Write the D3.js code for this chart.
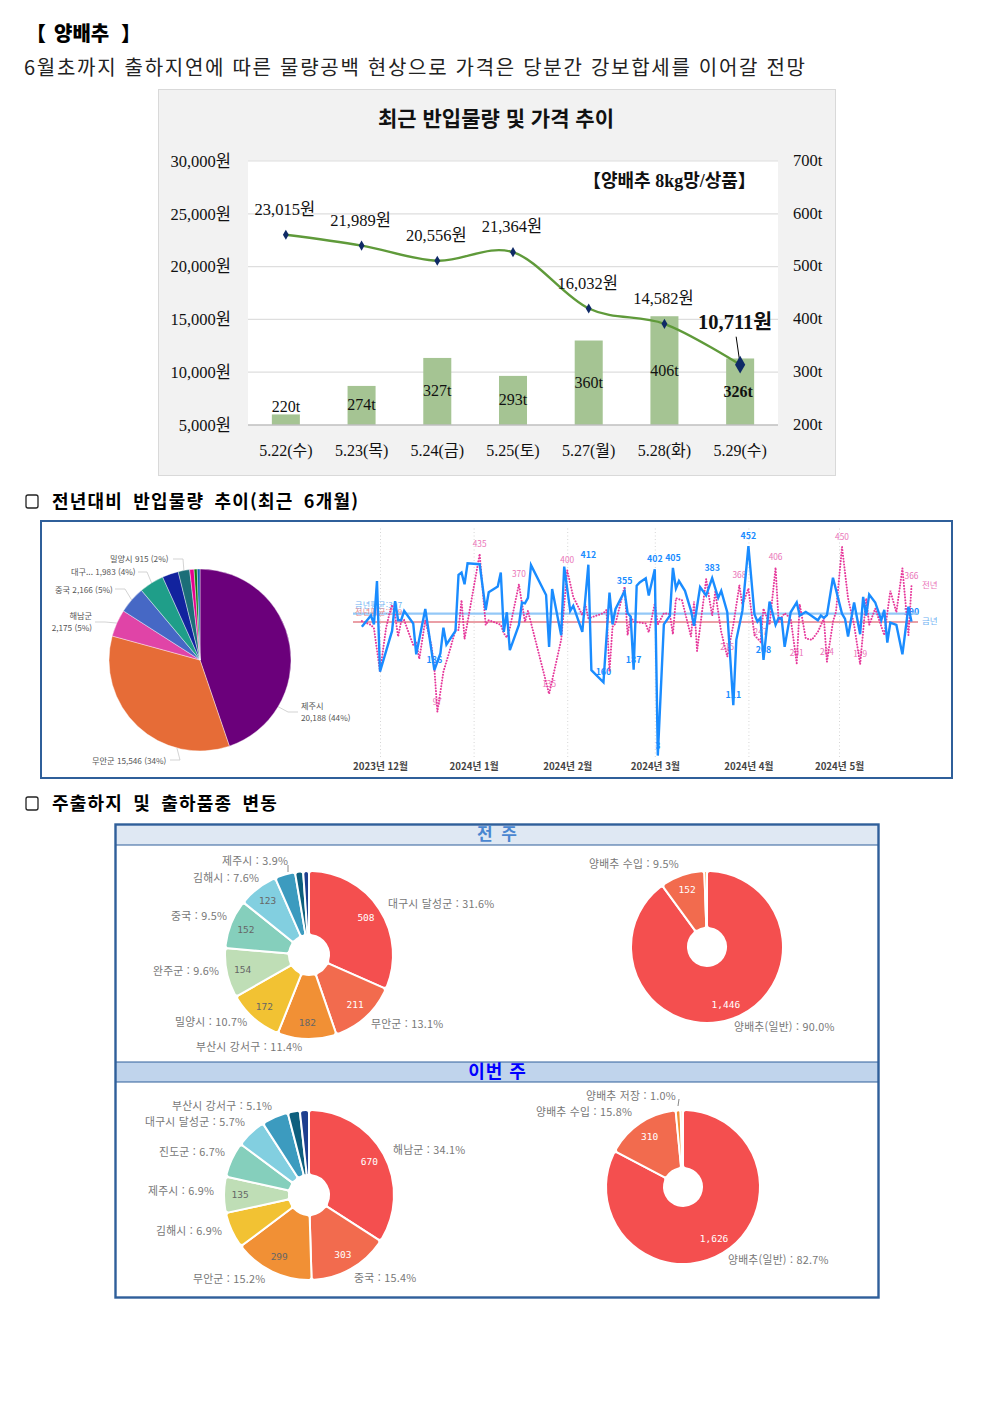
<!DOCTYPE html>
<html lang="ko">
<head>
<meta charset="utf-8">
<title>양배추</title>
<script src="https://cdn.jsdelivr.net/npm/d3@7"></script>
<style>
    body { margin: 0; background: #fff; }
    text { font-family: "Noto Sans CJK KR", sans-serif; }
    .serif text, text.serif { font-family: "Liberation Serif", "Noto Sans CJK KR", serif; }
    .mono { font-family: "DejaVu Sans Mono", monospace; }
</style>
</head>
<body>
<svg id="page" width="992" height="1403"></svg>
<script>
// price and volume chart
const priceDates = ['5.22(수)', '5.23(목)', '5.24(금)', '5.25(토)', '5.27(월)', '5.28(화)', '5.29(수)'];
const prices = [23015, 21989, 20556, 21364, 16032, 14582, 10711];
const tons = [220, 274, 327, 293, 360, 406, 326];
const priceTicks = [5000, 10000, 15000, 20000, 25000, 30000];
const tonTicks = [200, 300, 400, 500, 600, 700];

// origin pie of the last six months
const originNames = ['제주시', '무안군', '해남군', '중국', '대구...', '기타1', '밀양시', '기타2', '기타3', '기타4'];
const originValues = [20188, 15546, 2175, 2166, 1983, 1300, 915, 350, 250, 220];
const originShares = [44, 34, 5, 5, 4, 3, 2, 1, 1, 1];

// daily volume, day offsets count from 2023-12-01
const curDays = [-6, -3, -2, -1, 0, 4, 5, 6, 7, 8, 11, 12, 15, 18, 20, 21, 22, 25, 26, 27, 28, 29, 33, 35, 36, 39, 40, 41, 42, 43, 46, 47, 48, 49, 50, 55, 56, 57, 60, 61, 63, 64, 67, 69, 70, 74, 76, 77, 78, 81, 82, 83, 84, 85, 86, 88, 89, 91, 92, 94, 96, 97, 98, 99, 101, 103, 104, 106, 108, 110, 112, 113, 115, 117, 118, 120, 122, 124, 125, 126, 127, 129, 131, 132, 133, 134, 136, 138, 139, 141, 145, 146, 147, 148, 150, 153, 154, 155, 157, 159, 160, 161, 162, 164, 166, 167, 168, 169, 171, 173, 175, 176];
const curTons = [279, 303, 284, 377, 183, 270, 334, 293, 293, 313, 286, 220, 317, 186, 222, 277, 241, 270, 390, 395, 370, 415, 413, 315, 353, 365, 395, 268, 310, 229, 283, 331, 329, 341, 411, 347, 236, 360, 261, 408, 313, 324, 268, 412, 186, 160, 352, 284, 317, 355, 308, 301, 187, 367, 374, 383, 346, 402, 3, 284, 303, 405, 361, 377, 356, 313, 281, 364, 346, 383, 341, 356, 310, 111, 251, 313, 452, 306, 290, 298, 208, 333, 283, 298, 297, 236, 310, 331, 303, 311, 293, 303, 298, 304, 384, 307, 296, 258, 331, 263, 343, 303, 348, 331, 293, 315, 245, 288, 283, 220, 322, 290];
const curLabelDays = [18, 69, 74, 81, 84, 91, 92, 97, 110, 117, 122, 127, 176];

const prevDays = [-6, -3, -2, 0, 2, 3, 4, 5, 6, 7, 8, 11, 12, 13, 15, 17, 18, 19, 21, 23, 25, 26, 27, 28, 33, 35, 36, 39, 40, 41, 42, 43, 46, 48, 49, 56, 60, 62, 64, 67, 68, 69, 74, 75, 76, 77, 78, 81, 82, 83, 84, 88, 89, 91, 92, 94, 96, 97, 98, 100, 103, 104, 105, 108, 110, 111, 113, 115, 117, 119, 120, 122, 124, 126, 127, 129, 131, 132, 134, 136, 138, 139, 141, 143, 145, 147, 148, 150, 151, 153, 155, 157, 159, 161, 162, 164, 167, 169, 171, 173, 175, 176];
const prevTons = [291, 283, 276, 183, 276, 304, 326, 304, 258, 290, 293, 240, 247, 210, 293, 240, 190, 97, 183, 226, 272, 272, 336, 253, 435, 283, 293, 286, 283, 265, 256, 276, 370, 290, 313, 135, 251, 400, 343, 304, 327, 297, 308, 315, 183, 279, 286, 365, 261, 301, 290, 286, 267, 329, 284, 308, 306, 263, 340, 336, 258, 333, 227, 381, 303, 354, 268, 215, 283, 368, 326, 361, 261, 247, 318, 283, 406, 290, 308, 297, 201, 327, 254, 251, 268, 297, 204, 290, 311, 450, 340, 283, 199, 340, 283, 318, 261, 356, 310, 404, 261, 366];
const prevLabelDays = [19, 33, 46, 56, 62, 115, 119, 126, 131, 138, 148, 153, 159, 176];
const curAverage = 307;
const prevAverage = 289;
const monthTicks = ['2023-12-01', '2024-01-01', '2024-02-01', '2024-03-01', '2024-04-01', '2024-05-01'];

// last week's origins and varieties
const lastOriginNames = ['대구시 달성군', '무안군', '부산시 강서구', '밀양시', '완주군', '중국', '김해시', '제주시', '기타1', '기타2'];
const lastOriginValues = [508, 211, 182, 172, 154, 152, 123, 63, 25, 18];
const lastOriginShares = [31.6, 13.1, 11.4, 10.7, 9.6, 9.5, 7.6, 3.9];
const lastKindNames = ['양배추(일반)', '양배추 수입', '기타'];
const lastKindValues = [1446, 152, 9];
const lastKindShares = [90.0, 9.5];

// this week's origins and varieties
const thisOriginNames = ['해남군', '중국', '무안군', '김해시', '제주시', '진도군', '대구시 달성군', '부산시 강서구', '기타1', '기타2'];
const thisOriginValues = [670, 303, 299, 135, 135, 132, 112, 100, 45, 34];
const thisOriginShares = [34.1, 15.4, 15.2, 6.9, 6.9, 6.7, 5.7, 5.1];
const thisKindNames = ['양배추(일반)', '양배추 수입', '양배추 저장', '기타'];
const thisKindValues = [1626, 310, 20, 10];
const thisKindShares = [82.7, 15.8, 1.0];

const donutColors = ['#f44f4f', '#f26b4e', '#f19035', '#f2c233', '#bfdeb6', '#85cfbc', '#82cfe0', '#3c9bbf', '#0e5f7e', '#1e3f8f'];
const kindColors = ['#f44f4f', '#f26b4e', '#f19035', '#f8d9a8'];
const originColors = ['#6b007b', '#e66c37', '#e044a7', '#4668c5', '#1f9e89', '#12239e', '#1c6e78', '#e6008c', '#107c10', '#1260b0'];

const svg = d3.select('#page');

/* ---------- page text ---------- */

svg.append('text').attr('x', 26).attr('y', 41)
    .attr('font-size', 20).attr('font-weight', 900).text('【');
svg.append('text').attr('x', 54).attr('y', 41)
    .attr('font-size', 20).attr('font-weight', 900).text('양배추');
svg.append('text').attr('x', 121).attr('y', 41)
    .attr('font-size', 20).attr('font-weight', 900).text('】');
svg.append('text').attr('x', 24).attr('y', 74.5)
    .attr('font-size', 20).attr('fill', '#222')
    .attr('textLength', 781).attr('lengthAdjust', 'spacing')
    .text('6월초까지 출하지연에 따른 물량공백 현상으로 가격은 당분간 강보합세를 이어갈 전망');

function heading(y, label) {
    svg.append('rect').attr('x', 26).attr('y', y - 7).attr('width', 12).attr('height', 13)
        .attr('rx', 2).attr('fill', 'none').attr('stroke', '#222').attr('stroke-width', 1.3);
    svg.append('text').attr('x', 52).attr('y', y + 5.5)
        .attr('font-size', 18).attr('font-weight', 700)
        .attr('letter-spacing', 1.2).attr('word-spacing', 4).text(label);
}
heading(502, '전년대비 반입물량 추이(최근 6개월)');
heading(804, '주출하지 및 출하품종 변동');

/* ---------- price and volume ---------- */

function drawPriceChart() {
    const left = 248, right = 778, top = 161, bottom = 425;

    svg.append('rect').attr('x', 158.5).attr('y', 89.5).attr('width', 677).attr('height', 386)
        .attr('fill', '#f2f2f2').attr('stroke', '#d9d9d9');
    svg.append('rect').attr('x', left).attr('y', top).attr('width', right - left).attr('height', bottom - top)
        .attr('fill', '#fff');
    svg.append('text').attr('x', 496).attr('y', 126).attr('text-anchor', 'middle')
        .attr('font-size', 21).attr('font-weight', 700).attr('fill', '#111').text('최근 반입물량 및 가격 추이');

    const x = d3.scaleBand().domain(priceDates).range([left, right]).paddingInner(0.63).paddingOuter(0.315);
    const yPrice = d3.scaleLinear().domain([5000, 30000]).range([bottom, top]);
    const yTon = d3.scaleLinear().domain([200, 700]).range([bottom, top]);
    const cx = d => x(d) + x.bandwidth() / 2;

    svg.append('g').selectAll('line').data(priceTicks.slice(1)).join('line')
        .attr('x1', left).attr('x2', right)
        .attr('y1', d => yPrice(d)).attr('y2', d => yPrice(d))
        .attr('stroke', '#dedede').attr('stroke-width', 1.2);

    svg.append('g').selectAll('rect').data(priceDates).join('rect')
        .attr('x', d => x(d)).attr('width', x.bandwidth())
        .attr('y', (d, i) => yTon(tons[i])).attr('height', (d, i) => bottom - yTon(tons[i]))
        .attr('fill', '#a5c493');

    svg.append('line').attr('x1', left).attr('x2', right).attr('y1', bottom).attr('y2', bottom)
        .attr('stroke', '#bfbfbf').attr('stroke-width', 1.5);

    const axisLeft = svg.append('g').attr('class', 'serif').attr('transform', 'translate(' + left + ',0)')
        .call(d3.axisLeft(yPrice).tickValues(priceTicks).tickSize(0).tickPadding(17)
            .tickFormat(d => d3.format(',')(d) + '원'));
    const axisRight = svg.append('g').attr('class', 'serif').attr('transform', 'translate(' + right + ',0)')
        .call(d3.axisRight(yTon).tickValues(tonTicks).tickSize(0).tickPadding(15).tickFormat(d => d + 't'));
    const axisBottom = svg.append('g').attr('class', 'serif').attr('transform', 'translate(0,' + bottom + ')')
        .call(d3.axisBottom(x).tickSize(0).tickPadding(20));
    [axisLeft, axisRight].forEach(function (g) {
        g.select('.domain').remove();
        g.selectAll('text').attr('font-size', 16.5).attr('fill', '#111');
    });
    axisRight.attr('transform', 'translate(' + right + ',-1)');
    axisBottom.select('.domain').remove();
    axisBottom.selectAll('text').attr('font-size', 16).attr('fill', '#111');

    // the price line
    const line = d3.line().x(d => cx(d)).y((d, i) => yPrice(prices[i])).curve(d3.curveCatmullRom.alpha(0));
    svg.append('path').datum(priceDates).attr('d', line)
        .attr('fill', 'none').attr('stroke', '#5f9a3a').attr('stroke-width', 2.4);

    svg.append('line')
        .attr('x1', cx(priceDates[6]) - 4).attr('y1', yPrice(prices[6]) - 28)
        .attr('x2', cx(priceDates[6])).attr('y2', yPrice(prices[6]))
        .attr('stroke', '#000');

    svg.append('g').selectAll('path').data(priceDates).join('path')
        .attr('transform', (d, i) => 'translate(' + cx(d) + ',' + yPrice(prices[i]) + ')')
        .attr('d', (d, i) => d3.symbol(d3.symbolDiamond, i === 6 ? 90 : 30)())
        .attr('fill', '#0f2a66');

    // labels
    svg.append('g').selectAll('text').data(priceDates).join('text').attr('class', 'serif')
        .attr('x', (d, i) => cx(d) + (i === 6 ? -5 : -1))
        .attr('y', (d, i) => yPrice(prices[i]) - (i === 6 ? 36 : 20))
        .attr('text-anchor', 'middle')
        .attr('font-size', (d, i) => i === 6 ? 20.5 : 16.5)
        .attr('font-weight', (d, i) => i === 6 ? 700 : 400)
        .attr('fill', '#111')
        .text((d, i) => d3.format(',')(prices[i]) + '원');

    svg.append('g').selectAll('text').data(priceDates).join('text').attr('class', 'serif')
        .attr('x', (d, i) => cx(d) - (i === 6 ? 2 : 0))
        .attr('y', function (d, i) {
            const barTop = yTon(tons[i]);
            // short bars carry the label on top
            return bottom - barTop < 20 ? barTop - 2 : (barTop + bottom) / 2 + 5;
        })
        .attr('text-anchor', 'middle').attr('font-size', 16)
        .attr('font-weight', (d, i) => i === 6 ? 700 : 400)
        .attr('fill', '#111')
        .text((d, i) => tons[i] + 't');

    svg.append('text').attr('class', 'serif').attr('x', 583).attr('y', 186.5)
        .attr('font-size', 18).attr('font-weight', 700).attr('fill', '#111').text('【양배추 8kg망/상품】');
}
drawPriceChart();

/* ---------- six month panel ---------- */

function drawOriginPie() {
    svg.append('rect').attr('x', 41).attr('y', 521).attr('width', 911).attr('height', 257)
        .attr('fill', '#fff').attr('stroke', '#2f5f9a').attr('stroke-width', 2);

    const center = [200, 660], radius = 91;
    const slices = d3.pie().sort(null)(originValues);
    const arc = d3.arc().innerRadius(0).outerRadius(radius);
    const g = svg.append('g').attr('transform', 'translate(' + center + ')');

    g.selectAll('path').data(slices).join('path')
        .attr('d', arc)
        .attr('fill', (d, i) => originColors[i])
        .attr('stroke', '#fff').attr('stroke-width', 0.4);

    const fmt = d3.format(',');
    const labelText = i => fmt(originValues[i]) + ' (' + originShares[i] + '%)';
    // at = where in the slice the leader starts, 0.5 is the middle
    const labels = [
        { i: 0, at: 0.75, x: 301, y: 709, anchor: 'start', lines: [originNames[0], labelText(0)], elbow: [288, 712, 298, 712] },
        { i: 1, at: 0.27, x: 92, y: 764, anchor: 'start', lines: [originNames[1] + ' ' + labelText(1)], elbow: [180, 760, 170, 760] },
        { i: 2, at: 0.5, x: 92, y: 619, anchor: 'end', lines: [originNames[2], labelText(2)], elbow: [105, 622, 95, 622] },
        { i: 3, at: 0.5, x: 55, y: 593, anchor: 'start', lines: [originNames[3] + ' ' + labelText(3)], elbow: [125, 589, 115, 589] },
        { i: 4, at: 0.5, x: 71, y: 575, anchor: 'start', lines: [originNames[4] + ' ' + labelText(4)], elbow: [147, 572, 138, 572] },
        { i: 6, at: 0.5, x: 110, y: 562, anchor: 'start', lines: [originNames[6] + ' ' + labelText(6)], elbow: [183, 559, 173, 559] }
    ];

    labels.forEach(function (l) {
        const s = slices[l.i];
        const a = s.startAngle + (s.endAngle - s.startAngle) * l.at;
        const sx = center[0] + Math.sin(a) * radius;
        const sy = center[1] - Math.cos(a) * radius;
        svg.append('polyline')
            .attr('points', [sx, sy].concat(l.elbow).join(','))
            .attr('fill', 'none').attr('stroke', '#c8c8c8').attr('stroke-width', 0.8);
        l.lines.forEach(function (t, k) {
            svg.append('text').attr('x', l.x).attr('y', l.y + k * 12)
                .attr('text-anchor', l.anchor).attr('font-size', 8.2)
                .attr('fill', '#555').text(t);
        });
    });
}
drawOriginPie();

function drawDailyLines() {
    const day0 = new Date(2023, 11, 1);
    const toDate = d => d3.timeDay.offset(day0, d);
    const months = monthTicks.map(d3.timeParse('%Y-%m-%d'));

    const x = d3.scaleTime().domain([months[0], months[5]]).range([380, 839]);
    const y = d3.scaleLinear().domain([0, 452]).range([757, 546]);

    const axis = svg.append('g').attr('transform', 'translate(0,757)')
        .call(d3.axisBottom(x).tickValues(months).tickSize(-230).tickPadding(6)
            .tickFormat(d3.timeFormat('%Y년 %-m월')));
    axis.select('.domain').remove();
    axis.selectAll('line').attr('stroke', '#d5d5d5').attr('stroke-dasharray', '1,2.5');
    axis.selectAll('text').attr('font-size', 9.7).attr('font-weight', 700).attr('fill', '#444');

    // labels sit under the lines
    const valueLabels = function (days, values, picks, color, size, weight) {
        svg.append('g').selectAll('text').data(picks).join('text')
            .attr('x', d => x(toDate(d)))
            .attr('y', d => y(values[days.indexOf(d)]) - 7)
            .attr('text-anchor', 'middle')
            .attr('font-size', size).attr('font-weight', weight).attr('fill', color)
            .text(d => values[days.indexOf(d)]);
    };
    valueLabels(prevDays, prevTons, prevLabelDays, '#ea74b8', 8.3, 400);
    valueLabels(curDays, curTons, curLabelDays, '#1a8cff', 8.8, 700);

    svg.append('line').attr('x1', 353).attr('x2', 918).attr('y1', y(curAverage)).attr('y2', y(curAverage))
        .attr('stroke', '#94c8f7').attr('stroke-width', 2.2);
    svg.append('line').attr('x1', 353).attr('x2', 918).attr('y1', y(prevAverage)).attr('y2', y(prevAverage))
        .attr('stroke', '#ea9fa6').attr('stroke-width', 2);

    svg.append('text').attr('x', 355).attr('y', y(curAverage) - 6).attr('font-size', 8).attr('fill', '#6fb2f2')
        .attr('letter-spacing', 0.3).text('금년평균:' + curAverage);
    svg.append('text').attr('x', 355).attr('y', y(prevAverage) - 7).attr('font-size', 8).attr('fill', '#e88a8f')
        .attr('letter-spacing', 0.3).text('전년평균:' + prevAverage);

    const line = (days, values) => d3.line()
        .x(d => x(toDate(d)))
        .y((d, i) => y(values[i]))(days);

    svg.append('path').attr('d', line(prevDays, prevTons))
        .attr('fill', 'none').attr('stroke', '#e6399b').attr('stroke-width', 2)
        .attr('stroke-dasharray', '0.1,2.8').attr('stroke-linecap', 'round');
    svg.append('path').attr('d', line(curDays, curTons))
        .attr('fill', 'none').attr('stroke', '#1a8cff').attr('stroke-width', 2.4);

    svg.append('text').attr('x', 922).attr('y', 588).attr('font-size', 8.5).attr('fill', '#ea74b8').text('전년');
    svg.append('text').attr('x', 922).attr('y', 624).attr('font-size', 8.5).attr('fill', '#6fb2f2').text('금년');
}
drawDailyLines();

/* ---------- weekly panel ---------- */

function drawPanel() {
    svg.append('rect').attr('x', 116).attr('y', 825).attr('width', 762).attr('height', 20).attr('fill', '#dfe8f3');
    svg.append('rect').attr('x', 116).attr('y', 1062).attr('width', 762).attr('height', 20).attr('fill', '#c0d4ec');
    [845, 1062, 1082].forEach(function (y) {
        svg.append('line').attr('x1', 116).attr('x2', 878).attr('y1', y).attr('y2', y)
            .attr('stroke', '#2f5f9a').attr('stroke-width', 1);
    });
    svg.append('rect').attr('x', 115.5).attr('y', 824.5).attr('width', 763).attr('height', 473)
        .attr('fill', 'none').attr('stroke', '#2f5f9a').attr('stroke-width', 2.4);

    svg.append('text').attr('x', 498).attr('y', 840).attr('text-anchor', 'middle')
        .attr('font-size', 17).attr('font-weight', 700).attr('letter-spacing', 2)
        .attr('fill', '#4a86d0').text('전 주');
    svg.append('text').attr('x', 497.5).attr('y', 1077.5).attr('text-anchor', 'middle')
        .attr('font-size', 18).attr('font-weight', 700).attr('letter-spacing', 1)
        .attr('fill', '#0000ff').text('이번 주');
}
drawPanel();

// one rounded donut, labels are [slice index, left x, mid y]
function drawDonut(opt) {
    const slices = d3.pie().sort(null)(opt.values);
    const arc = d3.arc().innerRadius(opt.inner).outerRadius(opt.outer).cornerRadius(3);
    const valueArc = d3.arc().innerRadius(opt.outer * opt.valueAt).outerRadius(opt.outer * opt.valueAt);
    const g = svg.append('g').attr('transform', 'translate(' + opt.center + ')');

    g.selectAll('path').data(slices).join('path')
        .attr('d', arc)
        .attr('fill', (d, i) => opt.colors[i])
        .attr('stroke', '#fff').attr('stroke-width', 2);

    opt.showValues.forEach(function (i) {
        const p = valueArc.centroid(slices[i]);
        g.append('text').attr('class', 'mono')
            .attr('x', p[0]).attr('y', p[1]).attr('dy', '0.35em').attr('text-anchor', 'middle')
            .attr('font-size', 9.5)
            .attr('fill', i < 2 ? '#fff' : '#666')
            .text(d3.format(',')(opt.values[i]));
    });

    opt.labels.forEach(function (l) {
        svg.append('text').attr('x', l[1]).attr('y', l[2]).attr('dy', '0.35em')
            .attr('font-size', 10.8).attr('fill', '#777').attr('letter-spacing', 0.25)
            .text(opt.names[l[0]] + ' : ' + d3.format('.1f')(opt.shares[l[0]]) + '%');
    });
}

drawDonut({
    center: [309, 955], outer: 84, inner: 20, valueAt: 0.81, colors: donutColors,
    values: lastOriginValues, names: lastOriginNames, shares: lastOriginShares,
    showValues: [0, 1, 2, 3, 4, 5, 6],
    labels: [[0, 388, 904], [1, 371, 1024], [2, 196, 1047], [3, 175, 1022], [4, 153, 971], [5, 171, 916], [6, 193, 878], [7, 222, 861]]
});
drawDonut({
    center: [707, 947], outer: 76, inner: 19, valueAt: 0.8, colors: kindColors,
    values: lastKindValues, names: lastKindNames, shares: lastKindShares,
    showValues: [0, 1],
    labels: [[0, 734, 1027], [1, 589, 864]]
});
drawDonut({
    center: [309, 1195], outer: 85, inner: 20, valueAt: 0.81, colors: donutColors,
    values: thisOriginValues, names: thisOriginNames, shares: thisOriginShares,
    showValues: [0, 1, 2, 4],
    labels: [[0, 393, 1150], [1, 354, 1278], [2, 193, 1279], [3, 156, 1231], [4, 148, 1191], [5, 159, 1152], [6, 145, 1122], [7, 172, 1106]]
});
drawDonut({
    center: [683, 1187], outer: 77, inner: 19, valueAt: 0.78, colors: kindColors,
    values: thisKindValues, names: thisKindNames, shares: thisKindShares,
    showValues: [0, 1],
    labels: [[0, 728, 1260], [1, 536, 1112], [2, 586, 1096]]
});

// small leader ticks next to the tiny slices
svg.append('line').attr('x1', 288).attr('x2', 288).attr('y1', 865).attr('y2', 872).attr('stroke', '#888');
svg.append('line').attr('x1', 679).attr('x2', 678).attr('y1', 1099).attr('y2', 1106).attr('stroke', '#888');
</script>
</body>
</html>
